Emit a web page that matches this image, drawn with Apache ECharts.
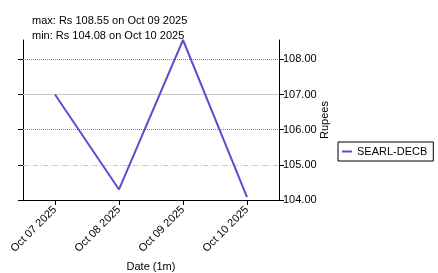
<!DOCTYPE html>
<html>
<head>
<meta charset="utf-8">
<script src="https://cdn.jsdelivr.net/npm/echarts@6/dist/echarts.min.js"></script>
<style>html,body{margin:0;padding:0;background:#fff;}#c{width:438px;height:273px;}</style>
</head>
<body>
<div id="c"></div>
<script>
const categories = ['Oct 07 2025', 'Oct 08 2025', 'Oct 09 2025', 'Oct 10 2025'];
const prices = [107.00, 104.30, 108.55, 104.08];
const yTicks = [104, 105, 106, 107, 108];
const seriesName = 'SEARL-DECB';

const maxV = Math.max(...prices), minV = Math.min(...prices);
const maxD = categories[prices.indexOf(maxV)], minD = categories[prices.indexOf(minV)];
const FONT = 'Liberation Sans, Arial, Helvetica, sans-serif';

const chart = echarts.init(document.getElementById('c'), null, {renderer: 'canvas'});
const yCommon = {
  type: 'value', min: 104, max: maxV,
  splitLine: {show: false},
  axisLine: {show: true, onZero: false, lineStyle: {color: '#000', width: 1}},
  axisTick: {show: true, inside: false, length: 5, lineStyle: {color: '#000'}, customValues: yTicks}
};
chart.setOption({
  animation: false,
  textStyle: {fontFamily: FONT},
  title: {
    text: 'max: Rs ' + maxV.toFixed(2) + ' on ' + maxD + '\nmin: Rs ' + minV.toFixed(2) + ' on ' + minD,
    left: 32, top: 14, padding: 0,
    textStyle: {fontSize: 11, fontWeight: 'normal', color: '#000', lineHeight: 14.5, fontFamily: FONT}
  },
  legend: {
    data: [seriesName], orient: 'vertical', left: 338, top: 142,
    borderColor: '#000', borderWidth: 1, borderRadius: 0, padding: [4, 6, 4, 4],
    icon: 'rect', itemWidth: 10, itemHeight: 2, itemGap: 4,
    textStyle: {fontSize: 11, color: '#000', fontFamily: FONT}
  },
  grid: {left: 23, right: 159, top: 40, bottom: 73, containLabel: false, outerBoundsMode: 'none'},
  xAxis: {
    type: 'category', data: categories, boundaryGap: true,
    name: 'Date (1m)', nameLocation: 'middle', nameGap: 61, nameMoveOverlap: false,
    nameTextStyle: {fontSize: 11, color: '#000', fontFamily: FONT},
    axisLine: {show: true, lineStyle: {color: '#000', width: 1}},
    axisTick: {show: true, alignWithLabel: true, length: 5, lineStyle: {color: '#000'}},
    axisLabel: {rotate: 45, margin: 8, fontSize: 11, color: '#000', fontFamily: FONT, interval: 0},
    splitLine: {show: false}
  },
  yAxis: [
    Object.assign({}, yCommon, {position: 'left', axisLabel: {show: false}}),
    Object.assign({}, yCommon, {
      position: 'right',
      name: 'Rupees', nameLocation: 'middle', nameRotate: 90, nameGap: 40, nameMoveOverlap: false,
      nameTextStyle: {fontSize: 11, color: '#000', fontFamily: FONT},
      axisLabel: {show: true, margin: 4, fontSize: 11, color: '#000', fontFamily: FONT,
        customValues: yTicks, formatter: v => v.toFixed(2)}
    })
  ],
  series: [{
    name: seriesName, type: 'line', data: prices, yAxisIndex: 1,
    symbol: 'none', color: '#5b4fd0',
    lineStyle: {width: 2, color: '#5b4fd0'},
    markLine: {
      silent: true, symbol: ['none', 'none'], label: {show: false},
      data: [
        {yAxis: yTicks[4], lineStyle: {type: 'dotted', color: '#888', width: 1}},
        {yAxis: yTicks[3], lineStyle: {type: 'solid', color: '#c8c8c8', width: 1}},
        {yAxis: yTicks[2], lineStyle: {type: 'dotted', color: '#888', width: 1}},
        {yAxis: yTicks[1], lineStyle: {type: [5, 2, 1, 2], color: '#c8c8c8', width: 1}}
      ],
      z: 1
    }
  }]
});
</script>
</body>
</html>
